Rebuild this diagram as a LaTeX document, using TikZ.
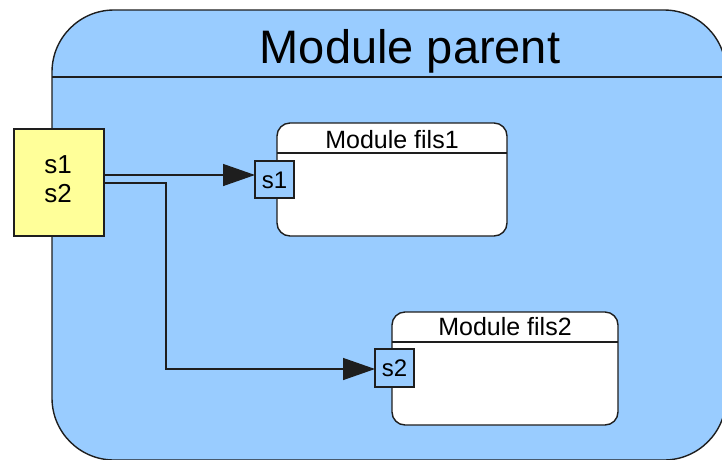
\documentclass[tikz,border=0pt]{standalone}
\usepackage{fontspec}
\setmainfont{Liberation Sans}
\usetikzlibrary{arrows.meta}
\definecolor{paneblue}{HTML}{99CCFF}
\definecolor{pinyellow}{HTML}{FFFF99}
\definecolor{edge}{HTML}{1E1E1E}
\begin{document}
\begin{tikzpicture}[x=1pt,y=-1pt,
  box/.style={draw=edge, line width=1.4pt, inner sep=0pt, outer sep=0pt, anchor=north west},
  module/.style={box, fill=white, rounded corners=13pt},
  port/.style={box, fill=paneblue, minimum width=39pt, minimum height=37pt},
  wire/.style={draw=edge, line width=1.4pt},
  tip/.style={-{Triangle[length=32pt,width=22pt]}},
  lbl/.style={inner sep=0pt, anchor=base, text=black},
  big/.style={font=\fontsize{47}{47}\selectfont},
  mid/.style={font=\fontsize{25}{25}\selectfont},
  sig/.style={font=\fontsize{26}{26}\selectfont},
  prt/.style={font=\fontsize{24}{24}\selectfont}]
\useasboundingbox (0,0) rectangle (722,459);
\clip (0,0) rectangle (722,459);
\fill[white] (0,0) rectangle (722,459);

% parent module with its title band
\node[box, fill=paneblue, rounded corners=62pt, minimum width=674pt, minimum height=450pt] (parent) at (52,10) {};
\coordinate (hdr) at (0,77);
\draw[wire] (parent.west |- hdr) -- (parent.east |- hdr);
\node[lbl, big] (title) at (410,63) {Module parent};

% signal source
\node[box, fill=pinyellow, minimum width=90pt, minimum height=107pt] (src) at (14,129) {};
\node[lbl, sig] (srcA) at (58,173) {s1};
\node[lbl, sig] (srcB) at (58,202) {s2};

% child module 1
\node[module, minimum width=230pt, minimum height=113pt] (fa) at (277,123) {};
\coordinate (fah) at (0,153);
\draw[wire] (fa.west |- fah) -- (fa.east |- fah);
\node[lbl, mid] (faT) at (392,148) {Module fils1};
\node[port] (pa) at (255,161) {};
\node[lbl, prt] (paT) at (274.5,188) {s1};

% child module 2
\node[module, minimum width=226pt, minimum height=113pt] (fb) at (392,312) {};
\coordinate (fbh) at (0,342);
\draw[wire] (fb.west |- fbh) -- (fb.east |- fbh);
\node[lbl, mid] (fbT) at (505,335) {Module fils2};
\node[port, minimum height=38pt] (pb) at (375,349) {};
\node[lbl, prt] (pbT) at (394.5,376) {s2};

% connections
\coordinate (ya) at (0,175);
\coordinate (yb) at (0,183);
\coordinate (yc) at (0,369);
\coordinate (xb) at (166,0);
\draw[wire, tip] (src.east |- ya) -- (pa.west |- ya);
\draw[wire, tip] (src.east |- yb) -- (xb |- yb) -- (xb |- yc) -- (pb.west |- yc);
\end{tikzpicture}
\end{document}
